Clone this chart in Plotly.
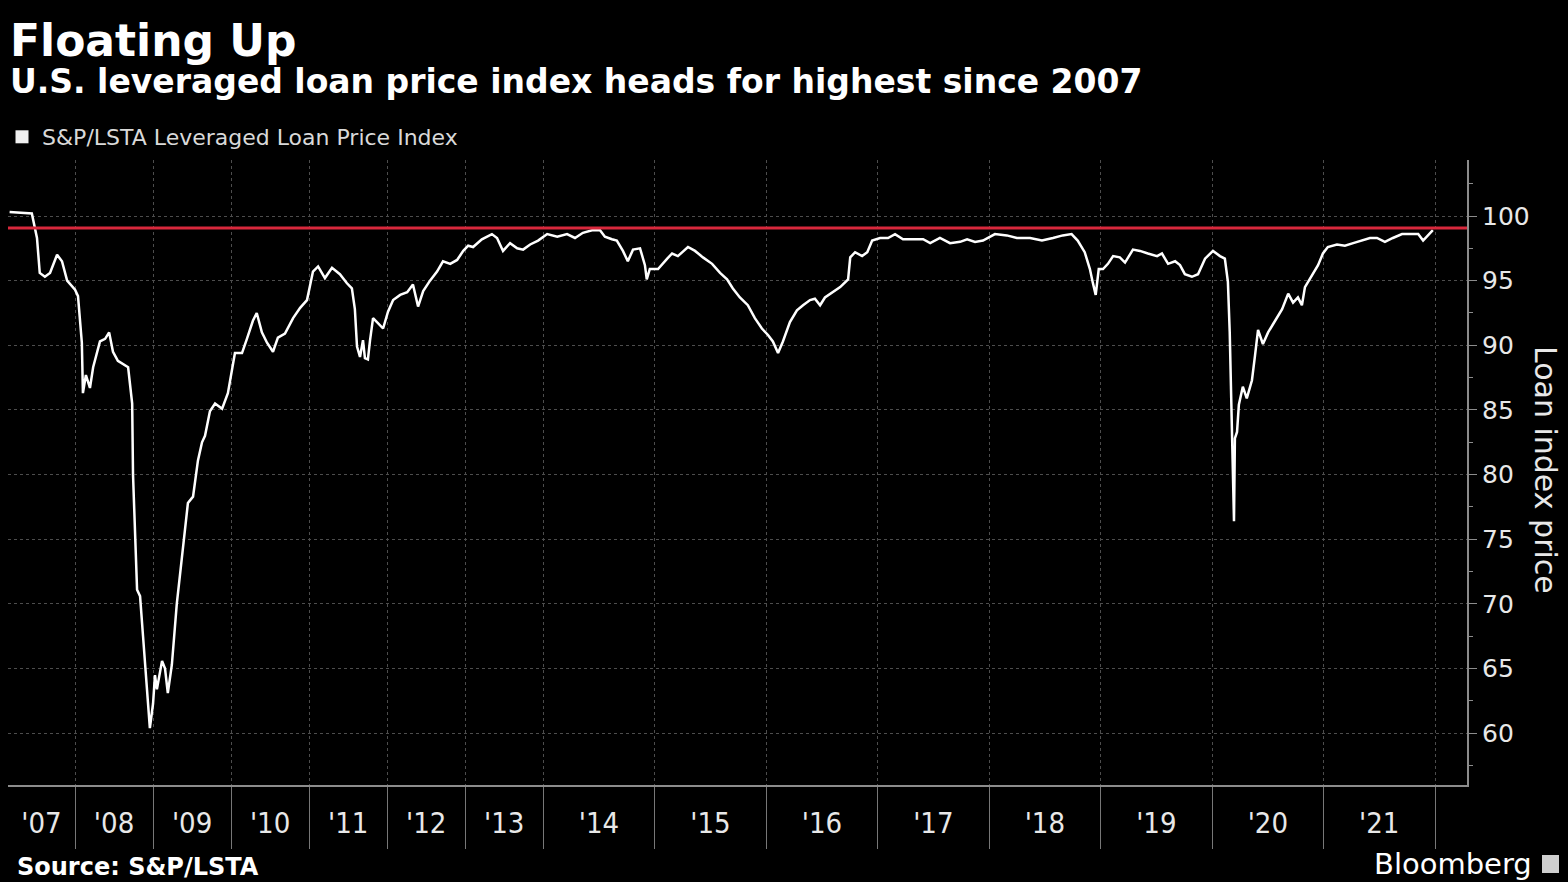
import plotly.graph_objects as go
from datetime import date

# ---------------- data ----------------
dates = [
    "2007-03-01", "2007-06-13", "2007-07-07", "2007-07-20", "2007-08-13", "2007-09-06", "2007-10-09",
    "2007-11-01", "2007-11-25", "2008-01-01", "2008-01-15", "2008-02-02", "2008-02-07", "2008-02-21",
    "2008-03-11", "2008-03-26", "2008-04-27", "2008-05-21", "2008-06-09", "2008-06-27", "2008-07-20",
    "2008-09-06", "2008-09-25", "2008-09-29", "2008-10-18", "2008-11-01", "2008-11-15", "2008-12-04",
    "2008-12-17", "2009-01-01", "2009-01-10", "2009-01-19", "2009-02-12", "2009-02-26", "2009-03-11",
    "2009-03-30", "2009-04-22", "2009-05-16", "2009-05-30", "2009-06-13", "2009-07-07", "2009-07-30",
    "2009-08-18", "2009-09-01", "2009-09-24", "2009-10-18", "2009-11-20", "2009-12-17", "2010-01-19",
    "2010-02-21", "2010-03-16", "2010-04-13", "2010-05-01", "2010-05-25", "2010-06-18", "2010-07-16",
    "2010-08-08", "2010-09-10", "2010-10-18", "2010-11-20", "2010-12-22", "2011-01-19", "2011-02-12",
    "2011-03-16", "2011-04-18", "2011-05-25", "2011-06-27", "2011-07-20", "2011-08-03", "2011-08-13",
    "2011-08-27", "2011-09-10", "2011-09-19", "2011-10-03", "2011-10-13", "2011-10-27", "2011-11-20",
    "2011-12-13", "2012-01-05", "2012-01-29", "2012-03-02", "2012-04-04", "2012-05-01", "2012-05-25",
    "2012-06-18", "2012-07-20", "2012-08-22", "2012-09-19", "2012-10-23", "2012-11-24", "2012-12-23",
    "2013-01-15", "2013-02-07", "2013-03-20", "2013-05-06", "2013-05-30", "2013-06-27", "2013-07-30",
    "2013-09-01", "2013-09-29", "2013-11-01", "2013-12-08", "2014-01-14", "2014-02-16", "2014-03-20",
    "2014-04-15", "2014-05-11", "2014-06-10", "2014-07-06", "2014-07-22", "2014-08-14", "2014-08-30",
    "2014-09-19", "2014-10-05", "2014-10-22", "2014-11-14", "2014-11-30", "2014-12-06", "2014-12-16",
    "2015-01-12", "2015-02-11", "2015-02-27", "2015-03-18", "2015-04-20", "2015-05-13", "2015-06-08",
    "2015-07-08", "2015-08-03", "2015-08-26", "2015-09-14", "2015-10-07", "2015-11-02", "2015-11-25",
    "2015-12-18", "2016-01-07", "2016-01-23", "2016-02-09", "2016-02-25", "2016-03-19", "2016-04-11",
    "2016-05-01", "2016-05-24", "2016-06-09", "2016-06-26", "2016-07-12", "2016-08-04", "2016-08-31",
    "2016-09-26", "2016-10-03", "2016-10-19", "2016-11-11", "2016-11-28", "2016-12-14", "2017-01-09",
    "2017-02-04", "2017-02-27", "2017-03-25", "2017-04-27", "2017-05-30", "2017-06-22", "2017-07-24",
    "2017-08-26", "2017-09-28", "2017-10-21", "2017-11-16", "2017-12-12", "2018-01-20", "2018-02-28",
    "2018-04-02", "2018-05-15", "2018-06-23", "2018-07-29", "2018-08-30", "2018-09-28", "2018-10-18",
    "2018-11-10", "2018-11-27", "2018-12-06", "2018-12-16", "2018-12-26", "2019-01-09", "2019-01-25",
    "2019-02-11", "2019-03-05", "2019-03-22", "2019-04-17", "2019-05-10", "2019-06-05", "2019-07-05",
    "2019-07-21", "2019-08-10", "2019-09-02", "2019-09-18", "2019-10-04", "2019-10-27", "2019-11-16",
    "2019-12-09", "2020-01-04", "2020-01-27", "2020-02-12", "2020-02-22", "2020-02-28", "2020-03-06",
    "2020-03-09", "2020-03-13", "2020-03-16", "2020-03-23", "2020-03-29", "2020-04-11", "2020-04-24",
    "2020-05-11", "2020-05-21", "2020-05-31", "2020-06-16", "2020-07-03", "2020-07-26", "2020-08-18",
    "2020-09-07", "2020-09-23", "2020-10-09", "2020-10-22", "2020-11-01", "2020-11-24", "2020-12-14",
    "2020-12-30", "2021-01-15", "2021-02-14", "2021-03-12", "2021-04-08", "2021-05-07", "2021-06-02",
    "2021-06-25", "2021-07-21", "2021-08-16", "2021-09-15", "2021-10-11", "2021-11-07", "2021-11-23",
    "2021-12-09", "2021-12-25",
]

prices = [
    100.3, 100.2, 98.3, 95.6, 95.3, 95.6, 97.0,
    96.5, 95.0, 94.3, 93.8, 90.2, 86.3, 87.7,
    86.7, 88.3, 90.3, 90.5, 91.0, 89.5, 88.8,
    88.3, 85.5, 80.0, 71.1, 70.6, 67.5, 63.7,
    60.4, 62.3, 64.5, 63.4, 65.6, 65.0, 63.1,
    65.3, 70.0, 73.6, 75.6, 77.8, 78.3, 81.1,
    82.5, 83.0, 84.9, 85.5, 85.1, 86.3, 89.4,
    89.4, 90.5, 91.9, 92.5, 91.0, 90.2, 89.5,
    90.6, 90.9, 92.1, 92.9, 93.5, 95.7, 96.1,
    95.2, 96.0, 95.5, 94.8, 94.4, 92.8, 89.9,
    89.1, 90.4, 89.0, 88.9, 90.4, 92.1, 91.7,
    91.3, 92.6, 93.5, 93.9, 94.1, 94.7, 93.0,
    94.2, 95.0, 95.7, 96.5, 96.3, 96.6, 97.3,
    97.7, 97.6, 98.2, 98.6, 98.3, 97.3, 97.9,
    97.5, 97.4, 97.8, 98.1, 98.6, 98.4, 98.6,
    98.3, 98.7, 98.9, 98.9, 98.4, 98.2, 98.1,
    97.3, 96.5, 97.4, 97.5, 96.2, 95.1, 95.9,
    95.9, 96.7, 97.1, 96.9, 97.6, 97.3, 96.8,
    96.3, 95.6, 95.1, 94.4, 93.7, 93.1, 92.1,
    91.3, 90.8, 90.3, 89.4, 90.3, 91.8, 92.7,
    93.1, 93.5, 93.6, 93.1, 93.7, 94.1, 94.5,
    95.1, 96.8, 97.2, 96.9, 97.2, 98.1, 98.3,
    98.3, 98.6, 98.2, 98.2, 98.2, 97.9, 98.3,
    97.9, 98.0, 98.2, 98.0, 98.1, 98.6, 98.5,
    98.3, 98.3, 98.1, 98.3, 98.5, 98.6, 98.1,
    97.2, 95.9, 94.9, 93.9, 95.9, 95.9, 96.3,
    96.9, 96.8, 96.4, 97.4, 97.3, 97.1, 96.9,
    97.1, 96.3, 96.5, 96.2, 95.5, 95.3, 95.5,
    96.7, 97.3, 96.9, 96.7, 94.9, 91.0, 83.3,
    78.2, 76.4, 82.8, 83.3, 85.4, 86.8, 85.9,
    87.3, 89.2, 91.2, 90.1, 91.0, 91.9, 92.8,
    94.0, 93.3, 93.7, 93.1, 94.5, 95.4, 96.2,
    97.1, 97.6, 97.8, 97.7, 97.9, 98.1, 98.3,
    98.3, 98.0, 98.3, 98.6, 98.6, 98.6, 98.1,
    98.5, 98.9,
]

label_years = list(range(2007, 2022))
year_labels = ["'07", "'08", "'09", "'10", "'11", "'12", "'13", "'14",
               "'15", "'16", "'17", "'18", "'19", "'20", "'21"]
year_boundaries = list(range(2008, 2023))
y_tick_values = [60, 65, 70, 75, 80, 85, 90, 95, 100]
reference_level = 99.07          # red horizontal marker line
x_start_year = 2007.141          # visible time window
x_end_year = 2022.287
y_min, y_max = 56.0, 104.33

series_name = "S&P/LSTA Leveraged Loan Price Index"

# ---------------- x scale ----------------
# The source chart gives each year before 2014 about 70% of the width
# of a later year (observation-indexed axis). Reproduce that scale.
PRE_2014_WIDTH = 0.7


def decimal_year(s):
    d = date.fromisoformat(s)
    start = date(d.year, 1, 1)
    end = date(d.year + 1, 1, 1)
    return d.year + (d - start).days / (end - start).days


def chart_pos(t):
    return (t - 2014) * PRE_2014_WIDTH if t < 2014 else (t - 2014)


x_vals = [chart_pos(decimal_year(s)) for s in dates]
x_lo, x_hi = chart_pos(x_start_year), chart_pos(x_end_year)

label_pos = []
for yr in label_years:
    a = max(yr, x_start_year)
    b = min(yr + 1, x_end_year)
    label_pos.append((chart_pos(a) + chart_pos(b)) / 2)
boundary_pos = [chart_pos(y) for y in year_boundaries]

# ---------------- figure geometry ----------------
W, H = 1568, 882
PLOT_L, PLOT_R, PLOT_T, PLOT_B = 8, 1467, 160, 785   # page pixels
L, R, T, B = PLOT_L, W - PLOT_R, PLOT_T, H - PLOT_B
pw, ph = W - L - R, H - T - B


def px(x):
    return (x - L) / pw


def py(y):
    return (H - B - y) / ph


GRID = "#4d4d4d"
AXIS = "#8c8c8c"
TEXT = "#e8e8e8"

fig = go.Figure()

fig.add_trace(go.Scatter(
    x=x_vals, y=prices, mode="lines",
    line=dict(color="#ffffff", width=2.5),
    showlegend=False, hoverinfo="skip",
))
# legend proxy (square swatch like the source)
fig.add_trace(go.Scatter(
    x=[None], y=[None], mode="markers", name=series_name,
    marker=dict(symbol="square", size=13, color="#f0f0f0"),
    showlegend=True,
))

fig.add_shape(type="line", xref="paper", yref="y", x0=0, x1=1,
              y0=reference_level, y1=reference_level,
              line=dict(color="#d8283c", width=3), layer="above")

fig.update_layout(
    width=W, height=H,
    margin=dict(l=L, r=R, t=T, b=B, autoexpand=False),
    paper_bgcolor="#000000", plot_bgcolor="#000000",
    font=dict(family="DejaVu Sans", color=TEXT),
    showlegend=True,
    legend=dict(x=px(2), y=py(137), xanchor="left", yanchor="middle",
                orientation="h", bgcolor="rgba(0,0,0,0)",
                font=dict(family="DejaVu Sans", size=22, color="#d9d9d9"),
                itemwidth=30),
    xaxis=dict(
        range=[x_lo, x_hi], fixedrange=True, automargin=False,
        tickmode="array", tickvals=label_pos, ticktext=year_labels,
        ticks="", showgrid=False, zeroline=False,
        showline=True, linecolor=AXIS, linewidth=2,
        tickfont=dict(family="DejaVu Sans Condensed, sans-serif",
                      size=29, color=TEXT),
        ticklabelstandoff=11,
        minor=dict(tickmode="array", tickvals=boundary_pos,
                   ticks="outside", ticklen=62, tickcolor="#777777", tickwidth=1,
                   showgrid=True, gridcolor=GRID, griddash="dot", gridwidth=1),
    ),
    yaxis=dict(
        range=[y_min, y_max], fixedrange=True, side="right", automargin=False,
        tickmode="array", tickvals=y_tick_values,
        ticks="outside", ticklen=8, tickcolor=AXIS, tickwidth=1,
        showline=True, linecolor=AXIS, linewidth=2,
        showgrid=True, gridcolor=GRID, griddash="dot", gridwidth=1,
        zeroline=False,
        tickfont=dict(family="DejaVu Sans", size=25, color=TEXT),
        minor=dict(dtick=2.5, tick0=0, ticks="outside", ticklen=4,
                   tickcolor=AXIS, showgrid=False),
    ),
)

annotations = [
    dict(text="<b>Floating Up</b>", x=px(8), y=py(40), xanchor="left", yanchor="middle",
         font=dict(family="DejaVu Sans", size=44, color="#ffffff")),
    dict(text="<b>U.S. leveraged loan price index heads for highest since 2007</b>",
         x=px(8), y=py(82), xanchor="left", yanchor="middle",
         font=dict(family="DejaVu Sans", size=33, color="#ffffff")),
    dict(text="Loan index price", x=px(1546), y=py(470), xanchor="center", yanchor="middle",
         textangle=90, font=dict(family="DejaVu Sans", size=30, color=TEXT)),
    dict(text="<b>Source: S&P/LSTA</b>", x=px(15), y=py(867), xanchor="left", yanchor="middle",
         font=dict(family="DejaVu Sans", size=24, color="#ffffff")),
    dict(text="Bloomberg", x=px(1534), y=py(864), xanchor="right", yanchor="middle",
         font=dict(family="DejaVu Sans", size=29, color="#ffffff")),
]
for a in annotations:
    a.update(xref="paper", yref="paper", showarrow=False)
fig.update_layout(annotations=annotations)

# small Bloomberg logo badge
fig.add_shape(type="rect", xref="paper", yref="paper",
              x0=px(1542), x1=px(1559), y0=py(873), y1=py(855),
              fillcolor="#cfcfcf", line=dict(width=0))

# page styling: no body margin, black page behind the figure
page_css = "document.body.style.margin='0';document.body.style.background='#000000';"

fig.write_html("out.html", post_script=page_css,
               config={"displayModeBar": False, "displaylogo": False})
